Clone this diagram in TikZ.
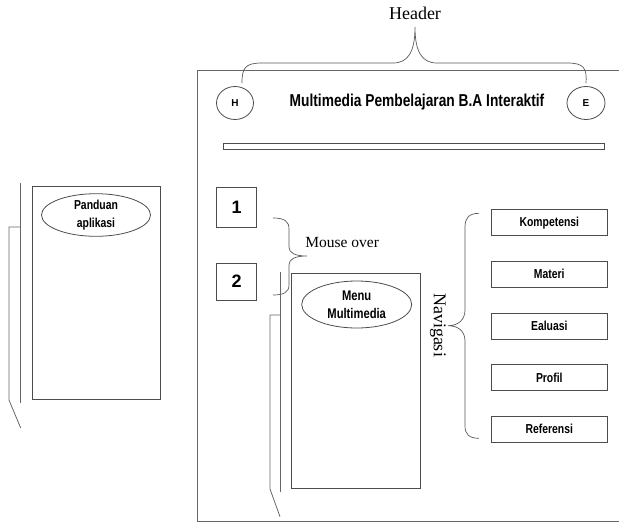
\documentclass[tikz,border=0pt]{standalone}
\usepackage{fontspec}
\setmainfont{Liberation Serif}
\setsansfont{Liberation Sans}
\newfontfamily\narrowfont[FakeStretch=0.8]{Liberation Sans}
\usetikzlibrary{shapes.geometric,calc}

\begin{document}
\begin{tikzpicture}[
    x=1pt, y=-1pt, % one unit = one pixel of the sketch, y going down
    line width=0.8pt, % line style
    every node/.style={inner sep=0pt}
    ]

    \tikzset{
        frame/.style={draw=black!60},
        box/.style={draw=black!70, rectangle},
        oval/.style={draw=black!70, ellipse, align=center,
            font=\narrowfont\bfseries\fontsize{13}{18}\selectfont},
        navbox/.style={box, minimum width=116pt, minimum height=26pt,
            font=\narrowfont\bfseries\fontsize{13}{14}\selectfont},
        numbox/.style={box, minimum width=40pt,
            font=\sffamily\bfseries\fontsize{18}{20}\selectfont},
        brace/.style={draw=black!65, line width=0.7pt},
        label/.style={font=\fontsize{16}{18}\selectfont}
    }
\useasboundingbox (0,0) rectangle (619,523);

% page frame
\draw[frame] (619,70.5) -- (197,70.5) -- (197,521.5) -- (619,521.5);

% header
\node[oval, minimum width=37pt, minimum height=33pt, font=\sffamily\bfseries\fontsize{10}{11}\selectfont] (H) at (235,103) {H};
\node[oval, minimum width=38pt, minimum height=33pt, font=\sffamily\bfseries\fontsize{10}{11}\selectfont] (E) at (586,103) {E};
\node[font=\narrowfont\bfseries\fontsize{17.2}{19}\selectfont] (title) at (417,102) {Multimedia Pembelajaran B.A Interaktif};
\node[box, minimum width=381pt, minimum height=6pt] (bar) at (413.5,146) {};
\node[label, font=\fontsize{18}{20}\selectfont] (header) at (415,13) {Header};

\coordinate (hL) at ($(H.north)+(7,-3)$);
\coordinate (hR) at ($(E.north)+(0,-3)$);
\draw[brace] (hL) .. controls (242,68) and (245,63) .. (262,63) -- (393,63)
    .. controls (408,63) and (415,52) .. (415,27)
    .. controls (415,52) and (422,63) .. (437,63) -- (567,63)
    .. controls (584,63) and (587,68) .. (hR);

% panduan aplikasi
\node[box, minimum width=128pt, minimum height=213pt] (panduan) at (96,293.3) {};
\node[oval, minimum width=109pt, minimum height=40pt] (panduanTitle) at (96,215) {Panduan\\aplikasi};
\draw[frame] (20.7,183) -- (20.7,403);
\draw[frame] (20.7,227) -- (9,227) -- (9,400) -- (20.7,428);

% mouse over buttons
\node[numbox, minimum height=40pt] (one) at (236.7,207.5) {1};
\node[numbox, minimum height=37pt] (two) at (236.7,281.7) {2};
\node[label, anchor=west, font=\fontsize{15.5}{18}\selectfont] (mouse) at (305,242) {Mouse over};
\draw[brace] (273,218) .. controls (284,218) and (289,221) .. (289,229) -- (289,247)
    .. controls (289,253) and (295,256) .. (307,256)
    .. controls (295,256) and (289,259) .. (289,265) -- (289,285)
    .. controls (289,292) and (284,295) .. (273,295);

% menu multimedia
\node[box, minimum width=129pt, minimum height=215pt] (menu) at (355.4,381.3) {};
\node[oval, minimum width=110pt, minimum height=47pt, font=\narrowfont\bfseries\fontsize{14}{18}\selectfont] (menuTitle) at (356.7,304.5) {Menu\\Multimedia};
\draw[frame] (280,271.7) -- (280,491.7);
\draw[frame] (280,315) -- (270,315) -- (270,489) -- (280,516.7);

% navigasi
\node[label, rotate=-90, font=\fontsize{18}{20}\selectfont] (nav) at (438,325) {Navigasi};
\draw[brace] (479,213.3) .. controls (469,213.3) and (465,218) .. (465,227) -- (465,310)
    .. controls (465,320) and (458,325.7) .. (448,325.7)
    .. controls (458,325.7) and (465,331) .. (465,341) -- (465,426)
    .. controls (465,434) and (469,438.3) .. (479,438.3);

\node[navbox] (komp) at (549.3,222.7) {Kompetensi};
\node[navbox] (materi) at (549.3,274.3) {Materi};
\node[navbox] (evaluasi) at (549.3,326) {Ealuasi};
\node[navbox] (profil) at (549.3,377.7) {Profil};
\node[navbox] (ref) at (549.3,429.3) {Referensi};
\end{tikzpicture}
\end{document}
